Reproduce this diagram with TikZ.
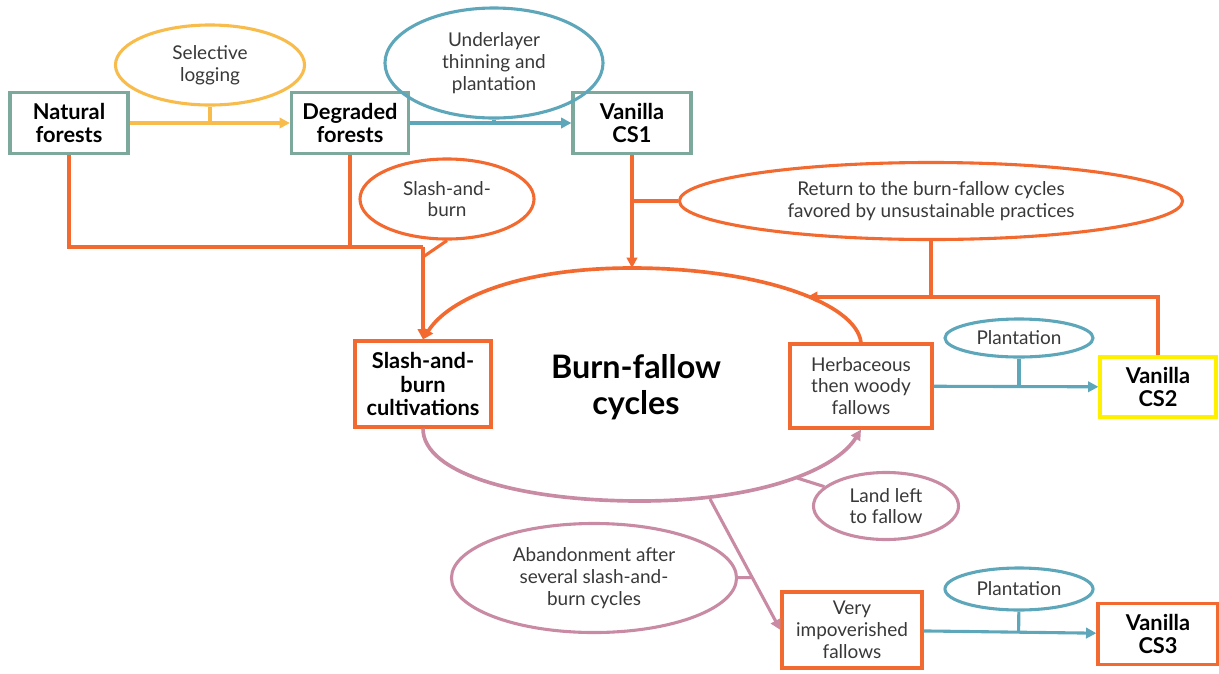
\documentclass[tikz,border=0pt]{standalone}
\usepackage{fontspec}
\setmainfont{Lato}
\usepackage{xcolor}
\usetikzlibrary{arrows.meta,positioning,shapes.geometric}
\definecolor{frame}{HTML}{7DA89C}
\definecolor{yel}{HTML}{F7BC4C}
\definecolor{tl}{HTML}{5EA7BA}
\definecolor{org}{HTML}{F26A2F}
\definecolor{pnk}{HTML}{C98BA4}
\definecolor{ybox}{HTML}{FFF000}
\definecolor{txt}{HTML}{383838}

\begin{document}
\begin{tikzpicture}[
  x=0.025cm, y=0.025cm,
  box/.style={draw, line width=2.2pt, align=center, inner sep=2pt, font=\fontsize{15.5}{17}\selectfont\bfseries, text=black},
  lbox/.style={box, font=\fontsize{13.5}{15.5}\selectfont, text=txt},
  oval/.style={ellipse, draw, line width=2.2pt, align=center, inner sep=0pt, font=\fontsize{13.5}{15.5}\selectfont, text=txt},
  arr/.style={-{Triangle[length=2.6mm,width=2.6mm]}, line width=2.2pt},
  lin/.style={line width=2.2pt}
]
\useasboundingbox (0,0) rectangle (1219,-673);
\node[box, draw=frame, minimum width=2.95cm, minimum height=1.525cm] (natural) at (69,-123) {Natural\\forests};
\node[box, draw=frame, minimum width=2.925cm, minimum height=1.525cm] (degraded) at (350,-123) {Degraded\\forests};
\node[box, draw=frame, minimum width=2.95cm, minimum height=1.525cm] (cs1) at (632,-123) {Vanilla\\CS1};
\node[oval, draw=yel, minimum width=4.725cm, minimum height=2cm] (logging) at (210,-65) {Selective\\logging};
\node[oval, draw=tl, minimum width=5.45cm, minimum height=2.75cm] (underlayer) at (494,-63) {Underlayer\\thinning and\\plantation};
\node[oval, draw=org, minimum width=4.35cm, minimum height=2cm] (slashburn) at (447,-199) {Slash-and-\\burn};
\node[oval, draw=org, minimum width=12.575cm, minimum height=1.925cm] (ret) at (931,-201) {Return to the burn-fallow cycles\\favored by unsustainable practices};
\node[box, draw=org, minimum width=3.4cm, minimum height=2.15cm] (slash) at (423,-384) {Slash-and-\\burn\\cultivations};
\node[align=center, font=\fontsize{23}{26}\selectfont\bfseries] (bfc) at (636,-387) {Burn-fallow\\cycles};
\node[lbox, draw=org, minimum width=3.55cm, minimum height=2.1cm] (herb) at (861,-386) {Herbaceous\\then woody\\fallows};
\node[oval, draw=tl, minimum width=3.7cm, minimum height=0.95cm] (plant1) at (1019,-338) {Plantation};
\node[box, draw=ybox, minimum width=2.9cm, minimum height=1.5cm] (cs2) at (1158,-387) {Vanilla\\CS2};
\node[oval, draw=pnk, minimum width=3.625cm, minimum height=1.675cm] (land) at (886,-506) {Land left\\to fallow};
\node[oval, draw=pnk, minimum width=7.125cm, minimum height=2.725cm] (aband) at (594,-578) {Abandonment after\\several slash-and-\\burn cycles};
\node[lbox, draw=org, minimum width=3.5cm, minimum height=1.9cm] (impov) at (852,-630) {Very\\impoverished\\fallows};
\node[oval, draw=tl, minimum width=3.7cm, minimum height=1.05cm] (plant2) at (1019,-589) {Plantation};
\node[box, draw=org, minimum width=3cm, minimum height=1.525cm] (cs3) at (1158,-634) {Vanilla\\CS3};
\coordinate (fjoin) at (423,-247);
\coordinate (sbjoin) at (423,-257);
\coordinate (bftop) at (632,-268);
\coordinate (bfbot) at (640,-501);
\coordinate (bfret) at (807,-297);
\coordinate (bfland) at (797,-478);
\coordinate (bfaband) at (710,-499);
\draw[arr, yel] (natural) -- (degraded);
\draw[lin, yel] (logging) -- (logging |- natural);
\draw[arr, tl] (degraded) -- (cs1);
\draw[lin, tl] (underlayer) -- (underlayer |- cs1);
\draw[lin, org] (natural.south) |- (fjoin);
\draw[lin, org] (degraded.south) -- (degraded.south |- fjoin);
\draw[lin, org] (slashburn.south) -- (sbjoin);
\draw[arr, org] (fjoin) -- (slash.north);
\draw[arr, org] (cs1.south) -- (cs1.south |- bftop);
\draw[lin, org] (ret) -- (ret -| cs1);
\draw[arr, org] (cs2) |- (bfret);
\draw[lin, org] (ret) -- (ret |- bfret);
\draw[arr, org, line width=2.6pt] (herb.north) .. controls +(-5,40) and +(125,0) .. (bftop) .. controls +(-115,0) and +(25,40) .. (slash.north);
\draw[arr, pnk, line width=2.6pt] (slash.south) .. controls +(0,-45) and +(-120,0) .. (bfbot) .. controls +(120,0) and +(-25,-40) .. (herb.south);
\draw[lin, pnk] (land) -- (bfland);
\draw[arr, pnk] (bfaband) -- (impov.west);
\path (bfaband) -- (impov.west) coordinate[pos=0.6] (abjoin);
\draw[lin, pnk] (aband) -- (abjoin);
\draw[arr, tl] (herb) -- (cs2);
\draw[lin, tl] (plant1) -- (plant1 |- herb.east);
\draw[arr, tl] (impov) -- (cs3);
\path (impov.east) -- (cs3.west) coordinate[pos=0.55] (p2join);
\draw[lin, tl] (plant2) -- (p2join);
\end{tikzpicture}
\end{document}
